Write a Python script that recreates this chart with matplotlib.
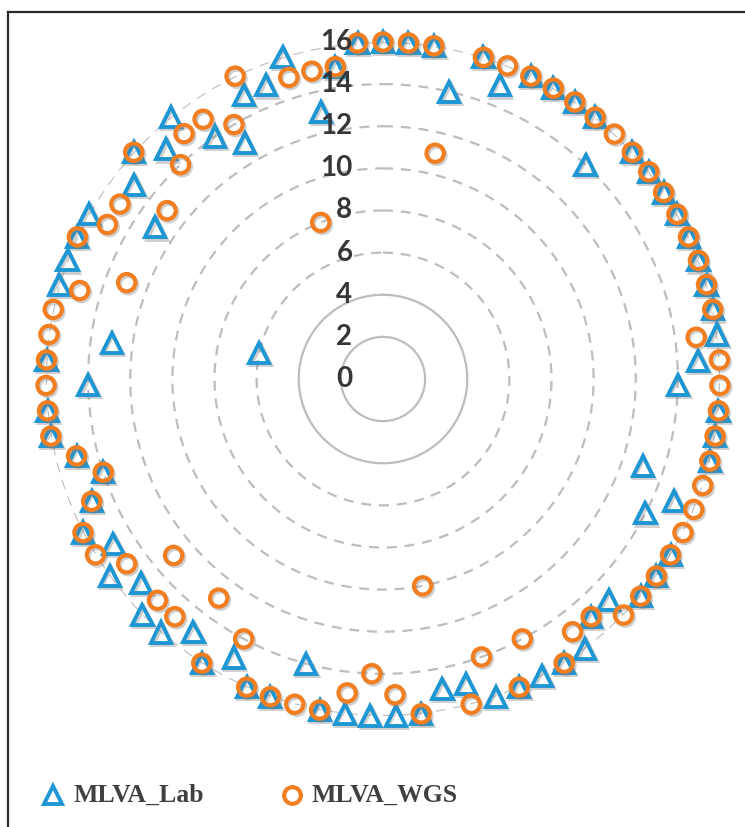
import numpy as np
import matplotlib
matplotlib.use("Agg")
from matplotlib import pyplot as plt
from matplotlib.lines import Line2D
import matplotlib.patheffects as pe

# values per locus (83 categories, clockwise from the top)
mlva_lab = [16, 16, 16, 14, 16, 15, 16, 16, 16, 16,
            14, 16, 16, 16, 16, 16, 16, 16, 16, 16,
            15, 14, 16, 16, 16, 13, 15, 14, 16, 16,
            16, 15, 15, 16, 16, 16, 16, 16, 15, 15,
            16, 16, 16, 16, 16, 14, 16, 16, 15, 16,
            15, 16, 16, 15, 16, 15, 16, 15, 14, 15,
            16, 16, 14, 16, 13, 6, 16, 16, 16, 16,
            13, 15, 16, 15, 16, 14, 13, 15, 15, 16,
            13, 15, 16]
mlva_wgs = [16, 16, 16, 11, 16, 16, 16, 16, 16, 16,
            16, 16, 16, 16, 16, 16, 16, 16, 16, 15,
            16, 16, 16, 16, 16, 16, 16, 16, 16, 16,
            16, 16, 15, 15, 16, 14, 16, 14, 16, 10,
            16, 15, 14, 15, 16, 16, 16, 16, 14, 16,
            13, 15, 15, 13, 15, 16, 16, 15, 14, 15,
            16, 16, 16, 16, 16, 16, 15, 13, 16, 15,
            15, 13, 16, 14, 15, 15, 14, 16, 8, 15,
            15, 15, 16]
ring_values = [0, 2, 4, 6, 8, 10, 12, 14, 16]
series_names = ["MLVA_Lab", "MLVA_WGS"]

blue = "#1f96d4"
orange = "#f27e22"
grid_col = "#bdbdbd"
label_col = "#363636"

n = len(mlva_lab)
theta = np.arange(n) * 2 * np.pi / n

W, H = 745, 827
fig = plt.figure(figsize=(W / 100, H / 100), dpi=100)

# polar axes placed so the centre is at (383, 379) px and r=16 at 337 px
cx, cy, R = 383, 379, 337
ax = fig.add_axes([(cx - R) / W, (H - cy - R) / H, 2 * R / W, 2 * R / H],
                  projection="polar")
ax.set_theta_zero_location("N")
ax.set_theta_direction(-1)
ax.set_ylim(0, 16)
ax.grid(False)
ax.spines["polar"].set_visible(False)
ax.set_xticks([])
ax.set_yticks([])
ax.patch.set_alpha(0)

# rings: 2 and 4 solid, the rest dashed
tt = np.linspace(0, 2 * np.pi, 400)
for r in ring_values[1:]:
    if r <= 4:
        ax.plot(tt, np.full_like(tt, r), color=grid_col, lw=1.6, zorder=1)
    else:
        ax.plot(tt, np.full_like(tt, r), color=grid_col, lw=1.6,
                dashes=(4.5, 3.5), zorder=1)

# axis value labels left of the vertical axis
for r in ring_values:
    ax.annotate(str(r), xy=(0, r), xytext=(-22, 0), textcoords="offset points",
                ha="right", va="center", fontsize=20, fontweight="bold",
                family="Lato", color=label_col, zorder=5)

shadow = [pe.SimpleLineShadow(offset=(1.2, -1.5), shadow_color="#777777",
                              alpha=0.35), pe.Normal()]

ax.plot(theta, mlva_lab, linestyle="none", marker="^", markersize=14.5,
        markeredgewidth=2.8, markeredgecolor=blue, markerfacecolor="none",
        clip_on=False, zorder=3, path_effects=shadow)
ax.plot(theta, mlva_wgs, linestyle="none", marker="o", markersize=12.5,
        markeredgewidth=3.0, markeredgecolor=orange, markerfacecolor="none",
        clip_on=False, zorder=4, path_effects=shadow)

# legend
leg_y = 1 - 795 / H
fig.add_artist(Line2D([53 / W], [leg_y], transform=fig.transFigure,
                      marker="^", markersize=13.5, markeredgewidth=2.8,
                      markeredgecolor=blue, markerfacecolor="none",
                      linestyle="none"))
fig.text(74 / W, leg_y, series_names[0], ha="left", va="center",
         fontsize=18.5, fontweight="bold", family="Liberation Serif",
         color="#404040")
fig.add_artist(Line2D([292 / W], [leg_y], transform=fig.transFigure,
                      marker="o", markersize=12, markeredgewidth=3.0,
                      markeredgecolor=orange, markerfacecolor="none",
                      linestyle="none"))
fig.text(311 / W, leg_y, series_names[1], ha="left", va="center",
         fontsize=18.5, fontweight="bold", family="Liberation Serif",
         color="#404040")

# frame lines (top and left only are visible in the crop)
fig.add_artist(Line2D([8 / W, 1], [1 - 12 / H, 1 - 12 / H],
                      transform=fig.transFigure, color="#2b2b2b", lw=1.6))
fig.add_artist(Line2D([8 / W, 8 / W], [0, 1 - 12 / H],
                      transform=fig.transFigure, color="#2b2b2b", lw=1.6))

plt.savefig("out.png", dpi=100)
